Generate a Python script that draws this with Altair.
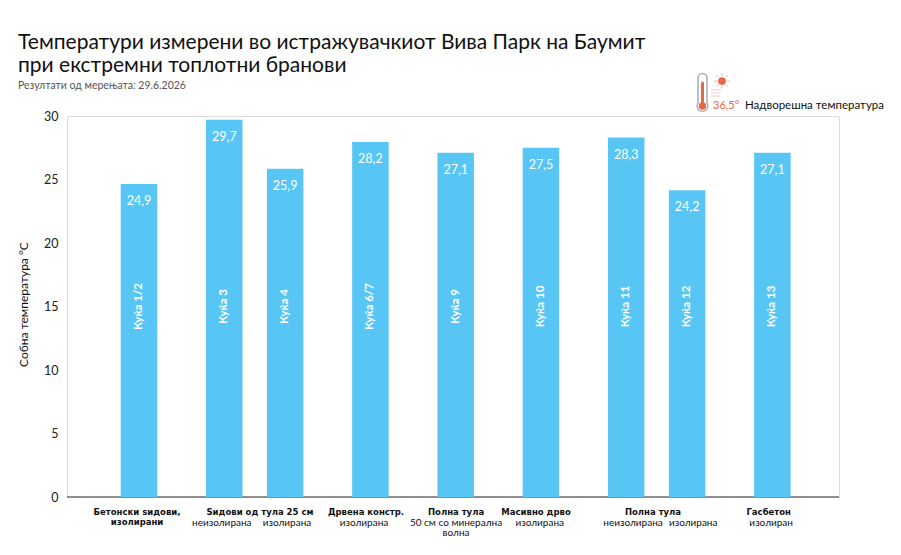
import altair as alt
import pandas as pd

houses = ["Куќа 1/2", "Куќа 3", "Куќа 4", "Куќа 6/7", "Куќа 9", "Куќа 10", "Куќа 11", "Куќа 12", "Куќа 13"]
slots = [0, 7, 12, 19, 26, 33, 40, 45, 52]
temps = [24.65, 29.7, 25.85, 27.95, 27.1, 27.5, 28.3, 24.15, 27.1]
temp_labels = ["24,9", "29,7", "25,9", "28,2", "27,1", "27,5", "28,3", "24,2", "27,1"]

bold_row1 = ["Бетонски ѕидови,", "Ѕидови од тула 25 см", "Дрвена констр.", "Полна тула", "Масивно дрво", "Полна тула", "Гасбетон"]
bold_row1_slots = [-0.16, 9.93, 18.64, 26.03, 32.6, 42.2, 51.7]
bold_row2 = ["изолирани"]
bold_row2_slots = [-0.16]
sub_row = ["неизолирана", "изолирана", "изолирана", "50 см со минерална", "изолирана", "неизолирана", "изолирана", "изолиран"]
sub_row_slots = [6.8, 12.15, 18.47, 26.03, 32.9, 40.56, 45.5, 51.9]
sub_row3 = ["волна"]
sub_row3_slots = [26.03]

BLUE = "#57c6f4"
ORANGE = "#e8674a"
SANS = "Lato"
x_scale = alt.Scale(domain=[-5.91, 57.47], nice=False, zero=False, padding=0)
y_scale = alt.Scale(domain=[0, 30], nice=False)

df = pd.DataFrame({"house": houses, "slot": slots, "temp": temps, "label": temp_labels, "mid": [15] * len(houses)})
X = alt.X("slot:Q", scale=x_scale, axis=None)

base = alt.Chart(df)
zero_line = base.mark_rule(color="#8f8f8f", strokeWidth=1.5).encode(y=alt.datum(0, scale=y_scale))
bars = base.mark_bar(color=BLUE, width=36.5).encode(
    x=X,
    y=alt.Y(
        "temp:Q",
        scale=y_scale,
        axis=alt.Axis(
            values=[0, 5, 10, 15, 20, 25, 30],
            title="Собна температура  °C",
            titleFont=SANS,
            titleFontSize=12,
            titleFontWeight="normal",
            titleColor="#111111",
            titlePadding=13,
            titleY=188,
            labelFont=SANS,
            labelFontSize=12.5,
            labelColor="#222222",
            labelPadding=9,
            domain=False,
            ticks=False,
            gridColor="#b2b2b2",
            gridWidth=1,
        ),
    ),
)
value_text = base.mark_text(color="white", font=SANS, fontSize=12.5, baseline="middle", dy=17).encode(
    x=X, y=alt.Y("temp:Q", scale=y_scale), text="label:N"
)
house_text = base.mark_text(color="white", font=SANS, fontSize=11.5, fontWeight="bold", angle=270, baseline="middle").encode(
    x=X, y=alt.Y("mid:Q", scale=y_scale), text="house:N"
)


def label_layer(texts, positions, ypx, bold):
    frame = pd.DataFrame({"t": texts, "s": positions})
    return alt.Chart(frame).mark_text(
        font="DejaVu Sans" if bold else SANS,
        fontSize=8.5 if bold else 10,
        fontWeight="bold" if bold else "normal",
        color="#111111",
        baseline="middle",
    ).encode(x=alt.X("s:Q", scale=x_scale, axis=None), y=alt.value(ypx), text="t:N")


labels = [
    label_layer(bold_row1, bold_row1_slots, 395.5, True),
    label_layer(bold_row2, bold_row2_slots, 405.5, True),
    label_layer(sub_row, sub_row_slots, 406.5, False),
    label_layer(sub_row3, sub_row3_slots, 417, False),
]


def icon_rule(x1, y1, x2, y2, color, width):
    return alt.Chart(pd.DataFrame({"a": [0]})).mark_rule(color=color, strokeWidth=width, strokeCap="round").encode(
        x=alt.value(x1), x2=alt.value(x2), y=alt.value(y1), y2=alt.value(y2)
    )


def icon_dot(x, y, size, color):
    return alt.Chart(pd.DataFrame({"a": [0]})).mark_point(filled=True, color=color, size=size, opacity=1).encode(
        x=alt.value(x), y=alt.value(y)
    )


def icon_text(x, y, text, color, size):
    return alt.Chart(pd.DataFrame({"t": [text]})).mark_text(
        color=color, font=SANS, fontSize=size, align="left", baseline="middle"
    ).encode(x=alt.value(x), y=alt.value(y), text="t:N")


ox, oy = 67, 116
cx = 702.5 - ox
icon = [
    icon_rule(cx, 78 - oy, cx, 104 - oy, "#ababab", 10.5),
    icon_dot(cx, 106 - oy, 150, "#ababab"),
    icon_rule(cx, 78 - oy, cx, 104 - oy, "white", 7.5),
    icon_dot(cx, 106 - oy, 90, "white"),
    icon_rule(cx, 83 - oy, cx, 104 - oy, ORANGE, 3),
    icon_dot(cx, 106 - oy, 55, ORANGE),
    icon_dot(722 - ox, 81 - oy, 60, ORANGE),
    icon_rule(722 - ox, 73.5 - oy, 722 - ox, 75.5 - oy, "#f0a590", 0.8),
    icon_rule(722 - ox, 86.5 - oy, 722 - ox, 88.5 - oy, "#f0a590", 0.8),
    icon_rule(714.5 - ox, 81 - oy, 716.5 - ox, 81 - oy, "#f0a590", 0.8),
    icon_rule(727.5 - ox, 81 - oy, 729.5 - ox, 81 - oy, "#f0a590", 0.8),
    icon_rule(716.5 - ox, 75.5 - oy, 718 - ox, 77 - oy, "#f0a590", 0.8),
    icon_rule(726 - ox, 85 - oy, 727.5 - ox, 86.5 - oy, "#f0a590", 0.8),
    icon_rule(726 - ox, 77 - oy, 727.5 - ox, 75.5 - oy, "#f0a590", 0.8),
    icon_rule(716.5 - ox, 86.5 - oy, 718 - ox, 85 - oy, "#f0a590", 0.8),
    icon_rule(711 - ox, 90 - oy, 720 - ox, 90 - oy, "#e6b8aa", 0.7),
    icon_rule(711 - ox, 93 - oy, 720 - ox, 93 - oy, "#e6b8aa", 0.7),
    icon_rule(711 - ox, 96 - oy, 720 - ox, 96 - oy, "#e6b8aa", 0.7),
    icon_text(713 - ox, 106 - oy, "36,5°", ORANGE, 11),
    icon_text(745 - ox, 105.5 - oy, "Надворешна температура", "#111111", 11.5),
]

chart = alt.layer(zero_line, bars, value_text, house_text, *labels, *icon).properties(
    width=772,
    height=381,
    padding={"left": 59, "top": 108, "right": 46, "bottom": 42},
    autosize=alt.AutoSizeParams(type="none"),
    title=alt.TitleParams(
        text=["Температури измерени во истражувачкиот Вива Парк на Баумит", "при екстремни топлотни бранови"],
        subtitle="Резултати од мерењата: 29.6.2026",
        anchor="start",
        frame="group",
        dx=-49,
        dy=43,
        offset=24,
        font=SANS,
        fontSize=21,
        fontWeight="normal",
        color="#111111",
        lineHeight=23,
        subtitleFont=SANS,
        subtitleFontSize=10.5,
        subtitleColor="#555555",
        subtitlePadding=5,
    ),
).configure_view(stroke=None).configure(background="white")

chart.save("out.html", embed_options={"renderer": "svg", "actions": False})
